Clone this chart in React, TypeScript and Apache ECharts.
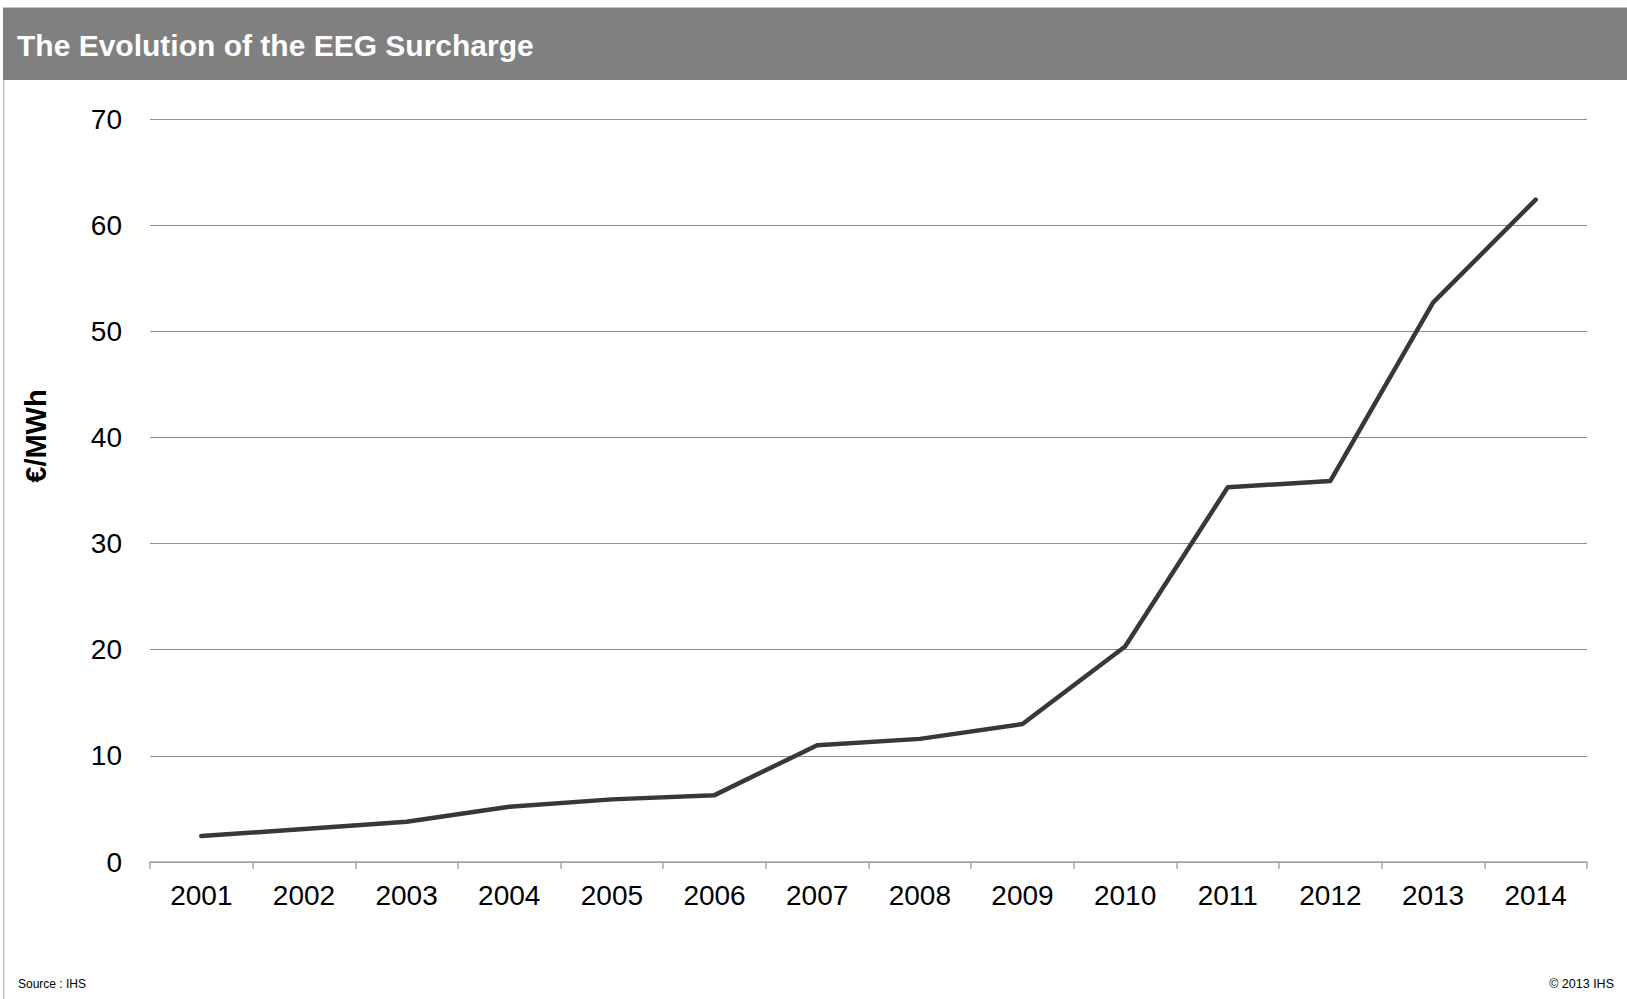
import React, { useEffect, useRef } from "react";
import * as echarts from "echarts";

const years = ["2001","2002","2003","2004","2005","2006","2007","2008","2009","2010","2011","2012","2013","2014"];
const surcharge = [2.45, 3.1, 3.8, 5.2, 5.9, 6.3, 11.0, 11.6, 13.0, 20.3, 35.3, 35.9, 52.7, 62.4];
const titleText = "The Evolution of the EEG Surcharge";
const yAxisTitle = "€/MWh";
const sourceText = "Source : IHS";
const copyrightText = "© 2013 IHS";

const FONT = "'Liberation Sans', Arial, sans-serif";

export default function App() {
  const ref = useRef<HTMLDivElement>(null);
  useEffect(() => {
    if (!ref.current) return;
    const chart = echarts.init(ref.current, null, { renderer: "svg" });
    chart.setOption({
      animation: false,
      backgroundColor: "#ffffff",
      grid: { left: 150, right: 40, top: 119, bottom: 137 },
      xAxis: {
        type: "category",
        data: years,
        boundaryGap: true,
        axisLine: { show: true, lineStyle: { color: "#a6a6a6", width: 1.5 } },
        axisTick: { show: true, length: 7, lineStyle: { color: "#a6a6a6", width: 1.5 } },
        axisLabel: { color: "#000", fontSize: 28, fontFamily: FONT, margin: 19 },
        splitLine: { show: false },
      },
      yAxis: {
        type: "value",
        min: 0,
        max: 70,
        interval: 10,
        axisLine: { show: false },
        axisTick: { show: false },
        axisLabel: { color: "#000", fontSize: 28, fontFamily: FONT, margin: 28 },
        splitLine: { show: true, lineStyle: { color: "#8c8c8c", width: 1.2 } },
      },
      series: [
        {
          type: "line",
          data: surcharge,
          symbol: "none",
          lineStyle: { color: "#383838", width: 4.5, cap: "round", join: "round" },
        },
      ],
      graphic: [
        { type: "rect", shape: { x: 3, y: 7, width: 1624, height: 1 }, style: { fill: "#c4c4c4" } },
        { type: "rect", shape: { x: 3, y: 8, width: 1624, height: 72 }, style: { fill: "#808080" } },
        { type: "rect", shape: { x: 3, y: 80, width: 1.5, height: 919 }, style: { fill: "#c0c0c0" } },
        {
          type: "text",
          x: 17,
          y: 45,
          style: {
            text: titleText,
            fill: "#ffffff",
            font: `bold 30px ${FONT}`,
            textAlign: "left",
            textVerticalAlign: "middle",
          },
        },
        {
          type: "text",
          x: 36,
          y: 436,
          rotation: Math.PI / 2,
          style: {
            text: yAxisTitle,
            fill: "#000",
            font: `bold 29px ${FONT}`,
            textAlign: "center",
            textVerticalAlign: "middle",
          },
        },
        {
          type: "text",
          x: 18,
          y: 984,
          style: { text: sourceText, fill: "#000", font: `12px ${FONT}`, textAlign: "left", textVerticalAlign: "middle" },
        },
        {
          type: "text",
          x: 1614,
          y: 984,
          style: { text: copyrightText, fill: "#000", font: `12.5px ${FONT}`, textAlign: "right", textVerticalAlign: "middle" },
        },
      ],
    });
    return () => chart.dispose();
  }, []);
  return (
    <div
      ref={ref}
      style={{ position: "absolute", left: 0, top: 0, width: 1627, height: 999, background: "#fff" }}
    />
  );
}
